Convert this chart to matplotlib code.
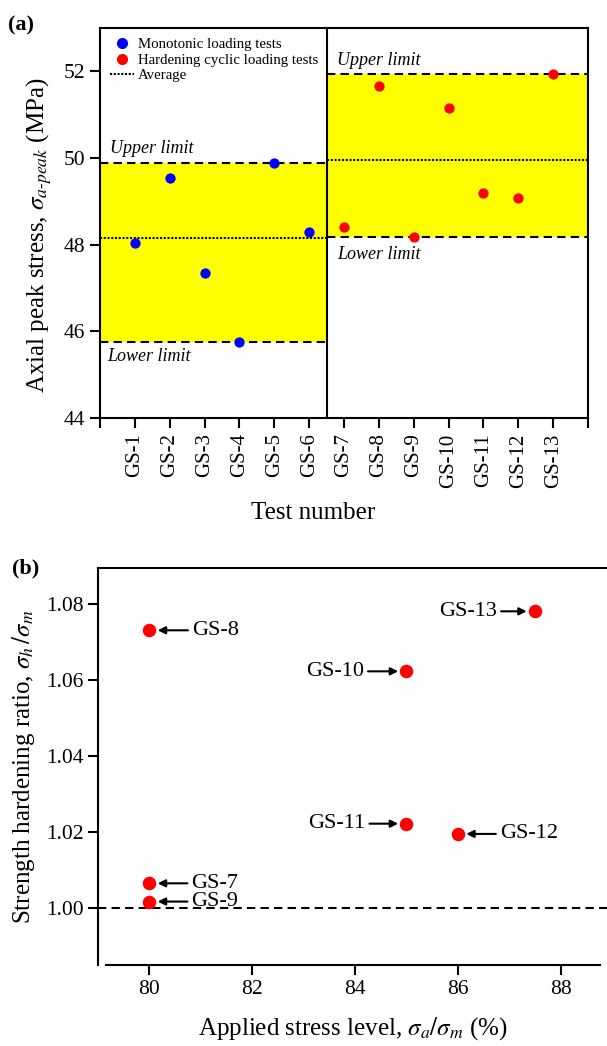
import numpy as np
import matplotlib
matplotlib.use('Agg')
import matplotlib.pyplot as plt
from matplotlib.lines import Line2D

plt.rcParams['font.family'] = ['Liberation Serif', 'DejaVu Serif']
plt.rcParams['mathtext.fontset'] = 'stix'

# panel (a) data
tests = ['GS-%d' % i for i in range(1, 14)]
mono_peak = [48.05, 49.55, 47.35, 45.76, 49.89, 48.29]          # GS-1 .. GS-6
cyclic_peak = [48.41, 51.67, 48.18, 51.15, 49.20, 49.08, 51.93]  # GS-7 .. GS-13

# panel (b) data
hard_names = ['GS-7', 'GS-8', 'GS-9', 'GS-10', 'GS-11', 'GS-12', 'GS-13']
stress_level = [80, 80, 80, 85, 85, 86, 87.5]
hard_ratio = [1.0065, 1.0731, 1.0017, 1.0623, 1.0222, 1.0195, 1.0781]

fig = plt.figure(figsize=(6.07, 10.46), dpi=100)

# ---------------- (a) ----------------
ax = fig.add_axes([100 / 607, 1 - 418 / 1046, 488 / 607, 390 / 1046])
xm = np.arange(1, 7)
xc = np.arange(7, 14)
split = 6.5
xmax = 14

groups = [(0, split, mono_peak), (split, xmax, cyclic_peak)]
for x0, x1, vals in groups:
    lo, hi, avg = min(vals), max(vals), np.mean(vals)
    ax.fill_between([x0, x1], lo, hi, color='#FFFF00', lw=0, zorder=1)
    ax.plot([x0, x1], [hi, hi], color='k', lw=1.5, ls=(0, (4, 2.5)), zorder=2)
    ax.plot([x0, x1], [lo, lo], color='k', lw=1.5, ls=(0, (4, 2.5)), zorder=2)
    ax.plot([x0, x1], [avg, avg], color='k', lw=1.5, ls=(0, (1, 0.8)), zorder=2)

ax.axvline(split, color='k', lw=1.5, zorder=3)
ax.scatter(xm, mono_peak, s=55, color='#0000FF', zorder=4, linewidths=0)
ax.scatter(xc, cyclic_peak, s=55, color='#FF0000', zorder=4, linewidths=0)

tkw = dict(fontsize=13, style='italic')
ax.text(0.29, 50.23, 'Upper limit', va='center', **tkw)
ax.text(0.2, 45.41, 'Lower limit', va='center', **tkw)
ax.text(6.8, 52.24, 'Upper limit', va='center', **tkw)
ax.text(6.8, 47.78, 'Lower limit', va='center', **tkw)

ax.set_xlim(0, xmax)
ax.set_ylim(44, 53)
ax.set_xticks(np.arange(0, xmax + 1))
ax.set_xticklabels([''] + tests + [''], rotation=90, fontsize=15)
ax.set_yticks([44, 46, 48, 50, 52])
ax.tick_params(axis='both', direction='out', length=7, width=1.5, labelsize=15.5)
ax.tick_params(axis='x', labelsize=15, pad=4)
for s in ax.spines.values():
    s.set_linewidth(1.5)

ax.set_xlabel('Test number', fontsize=18, labelpad=4)
ax.xaxis.set_label_coords(0.436, -0.215)
ax.set_ylabel('Axial peak stress, $\\sigma_{a\u2010peak}$ (MPa)', fontsize=18)
ax.yaxis.set_label_coords(-0.095, 0.47)

handles = [
    Line2D([], [], marker='o', color='#0000FF', ls='none', markersize=7),
    Line2D([], [], marker='o', color='#FF0000', ls='none', markersize=7),
    Line2D([], [], color='k', lw=1.5, ls=(0, (1, 0.8))),
]
ax.legend(handles, ['Monotonic loading tests', 'Hardening cyclic loading tests', 'Average'],
          loc='upper left', bbox_to_anchor=(0.02, 0.975), frameon=False, fontsize=10.7,
          handlelength=1.6, handletextpad=0.3, labelspacing=0.15, borderaxespad=0,
          borderpad=0)

fig.text(8 / 607, 1 - 30 / 1046, '(a)', fontsize=16, fontweight='bold')

# ---------------- (b) ----------------
bx = fig.add_axes([98 / 607, 1 - 965 / 1046, 1 - 98 / 607, 397 / 1046])
bx.axhline(1.0, color='k', lw=1.5, ls=(0, (4, 2.5)), zorder=1)
bx.scatter(stress_level, hard_ratio, s=95, color='#FF0000', zorder=3, linewidths=0)

label_right = {'GS-7': 0.82, 'GS-8': 0.83, 'GS-9': 0.82, 'GS-12': 0.82}
label_left = {'GS-10': 0.83, 'GS-11': 0.8, 'GS-13': 0.74}
for name, xv, yv in zip(hard_names, stress_level, hard_ratio):
    if name in label_right:
        xt, ha = xv + label_right[name], 'left'
    else:
        xt, ha = xv - label_left[name], 'right'
    bx.annotate(name, xy=(xv, yv), xytext=(xt, yv), ha=ha, va='center', fontsize=16,
                arrowprops=dict(arrowstyle='-|>', color='k', lw=1.5, shrinkA=1, shrinkB=6,
                                mutation_scale=11))

bx.set_xlim(79, 88.9)
bx.set_ylim(0.985, 1.0895)
bx.set_xticks([80, 82, 84, 86, 88])
bx.set_yticks([1.00, 1.02, 1.04, 1.06, 1.08])
bx.set_yticklabels(['1.00', '1.02', '1.04', '1.06', '1.08'])
bx.tick_params(axis='both', direction='out', length=7, width=1.5, labelsize=15.5)
bx.spines['right'].set_visible(False)
for s in ['left', 'top', 'bottom']:
    bx.spines[s].set_linewidth(1.5)
bx.spines['bottom'].set_bounds(79.16, 88.76)

bx.set_xlabel(r'Applied stress level, $\sigma_a/\sigma_m$ (%)', fontsize=18, labelpad=12)
bx.set_ylabel(r'Strength hardening ratio, $\sigma_h\,/\sigma_m$', fontsize=18, labelpad=6)

fig.text(12 / 607, 1 - 573 / 1046, '(b)', fontsize=16, fontweight='bold')

fig.savefig('out.png', dpi=100)
